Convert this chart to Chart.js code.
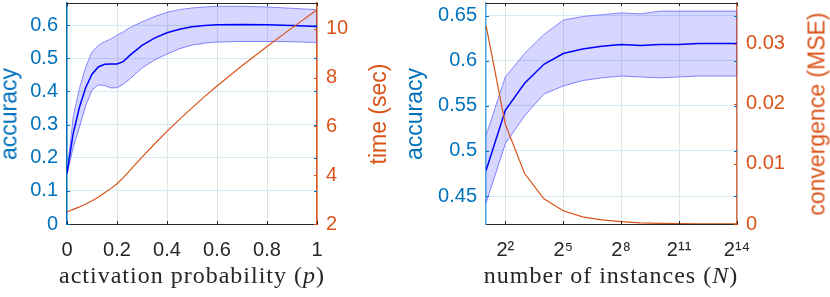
<!DOCTYPE html>
<html>
<head>
<meta charset="utf-8">
<script src="https://cdn.jsdelivr.net/npm/chart.js@4.4.1/dist/chart.umd.min.js"></script>
<style>
  body { margin: 0; background: #fff; }
  #wrap { position: relative; width: 830px; height: 297px; overflow: hidden; font-family: 'Liberation Sans', Arial, sans-serif; }
  canvas { position: absolute; top: 0; }
  .yt { position: absolute; top: 114px; white-space: nowrap; font-size: 23px; transform: translate(-50%, -50%) rotate(-90deg); }
  .xt { position: absolute; top: 275px; white-space: nowrap; font-family: 'Liberation Serif', serif; font-size: 24px; letter-spacing: 1px; color: #262626; transform: translate(-50%, -50%); }
</style>
</head>
<body>
<div id="wrap">
  <canvas id="chart-p" width="415" height="297" style="left:0"></canvas>
  <canvas id="chart-n" width="415" height="297" style="left:415px"></canvas>
  <div class="yt" style="left:9px;color:#0072BD">accuracy</div>
  <div class="yt" style="left:378px;color:#D95319">time (sec)</div>
  <div class="yt" style="left:414px;color:#0072BD">accuracy</div>
  <div class="yt" style="left:817px;color:#D95319">convergence (MSE)</div>
  <div class="xt" style="left:192px">activation probability (<i>p</i>)</div>
  <div class="xt" style="left:611px">number of instances (<i>N</i>)</div>
</div>
<script>
// left panel: accuracy / time vs activation probability
const pValues  = [0, 0.025, 0.05, 0.075, 0.1, 0.125, 0.15, 0.175, 0.2, 0.225, 0.25, 0.3, 0.35, 0.4, 0.45, 0.5, 0.55, 0.6, 0.7, 0.8, 0.9, 1.0];
const accMeanP  = [0.153, 0.274, 0.353, 0.412, 0.452, 0.474, 0.482, 0.483, 0.483, 0.490, 0.508, 0.539, 0.561, 0.577, 0.588, 0.595, 0.599, 0.601, 0.602, 0.601, 0.599, 0.596];
const accUpperP = [0.155, 0.324, 0.410, 0.474, 0.519, 0.539, 0.550, 0.558, 0.570, 0.580, 0.592, 0.610, 0.626, 0.639, 0.647, 0.652, 0.655, 0.657, 0.657, 0.655, 0.651, 0.647];
const accLowerP = [0.150, 0.232, 0.293, 0.358, 0.404, 0.420, 0.418, 0.411, 0.411, 0.422, 0.437, 0.471, 0.495, 0.513, 0.529, 0.540, 0.546, 0.549, 0.551, 0.551, 0.550, 0.548];
const timeSec   = [2.49, 2.60, 2.70, 2.82, 2.95, 3.10, 3.28, 3.45, 3.65, 3.90, 4.18, 4.74, 5.28, 5.80, 6.29, 6.76, 7.22, 7.66, 8.49, 9.28, 10.04, 10.78];
const pTicks    = [0, 0.2, 0.4, 0.6, 0.8, 1];
const accTicksP = [0, 0.1, 0.2, 0.3, 0.4, 0.5, 0.6];
const timeTicks = [2, 4, 6, 8, 10];

// right panel: accuracy / MSE vs number of instances
const nValues   = [2, 4, 8, 16, 32, 64, 128, 256, 512, 1024, 2048, 4096, 8192, 16384];
const accMeanN  = [0.478, 0.545, 0.575, 0.596, 0.608, 0.613, 0.616, 0.618, 0.617, 0.618, 0.618, 0.619, 0.619, 0.619];
const accUpperN = [0.517, 0.582, 0.608, 0.629, 0.645, 0.649, 0.651, 0.653, 0.652, 0.655, 0.655, 0.655, 0.655, 0.655];
const accLowerN = [0.442, 0.508, 0.539, 0.563, 0.572, 0.578, 0.581, 0.583, 0.582, 0.581, 0.582, 0.583, 0.583, 0.583];
const mseN      = [0.0331, 0.0166, 0.0084, 0.0042, 0.0022, 0.0012, 0.0007, 0.0004, 0.0002, 0.0001, 0.00005, 0.00004, 0.00003, 0.00003];
const nTicks    = [4, 32, 256, 2048, 16384];
const accTicksN = [0.45, 0.5, 0.55, 0.6, 0.65];
const mseTicks  = [0, 0.01, 0.02, 0.03];

const BLUE = '#0072BD';
const ORANGE = '#D95319';
const DARK = '#262626';
const tickFont = { family: "'Liberation Sans', Arial, sans-serif", size: 20 };

const SUP = { '0': '\u2070', '1': '\u00B9', '2': '\u00B2', '3': '\u00B3', '4': '\u2074', '5': '\u2075', '6': '\u2076', '7': '\u2077', '8': '\u2078', '9': '\u2079' };
const pow2Label = v => '2' + String(Math.round(Math.log2(v))).split('').map(d => SUP[d]).join('');
const num = v => String(+(+v).toFixed(4));
const pts = (xs, ys) => xs.map((x, i) => ({ x, y: ys[i] }));

// fixed axis box size, no extra label padding pushed into the layout
const fixBox = (prop, size) => s => {
  s[prop] = size;
  s.paddingTop = s.paddingBottom = s.paddingLeft = s.paddingRight = 0;
};

// top box line + small inward tick marks, MATLAB style
const frame = {
  id: 'frame',
  afterDraw(chart) {
    const { ctx, chartArea: a, scales } = chart;
    const L = 3;
    ctx.save();
    ctx.lineWidth = 1;
    const seg = (x1, y1, x2, y2, c) => {
      ctx.strokeStyle = c;
      ctx.beginPath(); ctx.moveTo(x1, y1); ctx.lineTo(x2, y2); ctx.stroke();
    };
    seg(a.left, a.top + 0.5, a.right, a.top + 0.5, DARK);
    scales.x.ticks.forEach(t => {
      const x = Math.round(scales.x.getPixelForValue(t.value)) + 0.5;
      seg(x, a.top, x, a.top + L, DARK);
      seg(x, a.bottom, x, a.bottom - L, DARK);
    });
    scales.y.ticks.forEach(t => {
      const y = Math.round(scales.y.getPixelForValue(t.value)) + 0.5;
      seg(a.left, y, a.left + L, y, BLUE);
      seg(a.right, y, a.right - L, y, BLUE);
    });
    scales.y1.ticks.forEach(t => {
      const y = Math.round(scales.y1.getPixelForValue(t.value)) + 0.5;
      seg(a.right, y, a.right - L, y, ORANGE);
    });
    ctx.restore();
  }
};

function makeChart(id, o) {
  return new Chart(document.getElementById(id), {
    type: 'line',
    data: {
      datasets: [
        { data: o.right, yAxisID: 'y1', borderColor: ORANGE, borderWidth: 1.2, fill: false },
        { data: o.mean, yAxisID: 'y', borderColor: '#0000FF', borderWidth: 1.5, fill: false },
        { data: o.upper, yAxisID: 'y', borderColor: 'rgba(100,100,255,0.75)', borderWidth: 1, fill: '+1', backgroundColor: 'rgba(0,0,255,0.16)' },
        { data: o.lower, yAxisID: 'y', borderColor: 'rgba(100,100,255,0.75)', borderWidth: 1, fill: false }
      ]
    },
    options: {
      responsive: false,
      animation: false,
      layout: { padding: { top: 3, left: 0, right: 0, bottom: 0 } },
      elements: { point: { radius: 0 }, line: { tension: 0 } },
      plugins: { legend: { display: false }, tooltip: { enabled: false } },
      scales: {
        x: Object.assign({
          position: 'bottom',
          afterFit: fixBox('height', 73),
          afterBuildTicks: s => { s.ticks = o.xTicks.map(v => ({ value: v })); },
          grid: { color: '#e3e3e3', drawTicks: false },
          border: { color: DARK },
          ticks: { color: DARK, font: tickFont, padding: 14, autoSkip: false, maxRotation: 0, callback: o.xLabel }
        }, o.xScale),
        y: {
          position: 'left', min: o.yMin, max: o.yMax,
          afterFit: fixBox('width', o.yWidth),
          afterBuildTicks: s => { s.ticks = o.yTicks.map(v => ({ value: v })); },
          grid: { color: '#d6e9f6', drawTicks: false },
          border: { color: o.yBorder, width: 1.5 },
          ticks: { color: BLUE, font: tickFont, padding: 9, callback: num }
        },
        y1: {
          position: 'right', min: o.y1Min, max: o.y1Max,
          afterFit: fixBox('width', o.y1Width),
          afterBuildTicks: s => { s.ticks = o.y1Ticks.map(v => ({ value: v })); },
          grid: { drawOnChartArea: false, drawTicks: false },
          border: { color: o.y1Border, width: 1.5 },
          ticks: { color: ORANGE, font: tickFont, padding: 9, callback: num }
        }
      }
    },
    plugins: [frame]
  });
}

makeChart('chart-p', {
  mean: pts(pValues, accMeanP), upper: pts(pValues, accUpperP), lower: pts(pValues, accLowerP), right: pts(pValues, timeSec),
  xScale: { type: 'linear', min: 0, max: 1 }, xTicks: pTicks, xLabel: num,
  yMin: 0, yMax: 0.667, yTicks: accTicksP, yWidth: 67, yBorder: BLUE,
  y1Min: 2, y1Max: 11.06, y1Ticks: timeTicks, y1Width: 98, y1Border: ORANGE
});

makeChart('chart-n', {
  mean: pts(nValues, accMeanN), upper: pts(nValues, accUpperN), lower: pts(nValues, accLowerN), right: pts(nValues, mseN),
  xScale: { type: 'logarithmic', min: 2, max: 16384 }, xTicks: nTicks, xLabel: pow2Label,
  yMin: 0.419, yMax: 0.664, yTicks: accTicksN, yWidth: 71, yBorder: '#4aa3dc',
  y1Min: 0, y1Max: 0.0368, y1Ticks: mseTicks, y1Width: 93, y1Border: '#d0714d'
});
</script>
</body>
</html>
